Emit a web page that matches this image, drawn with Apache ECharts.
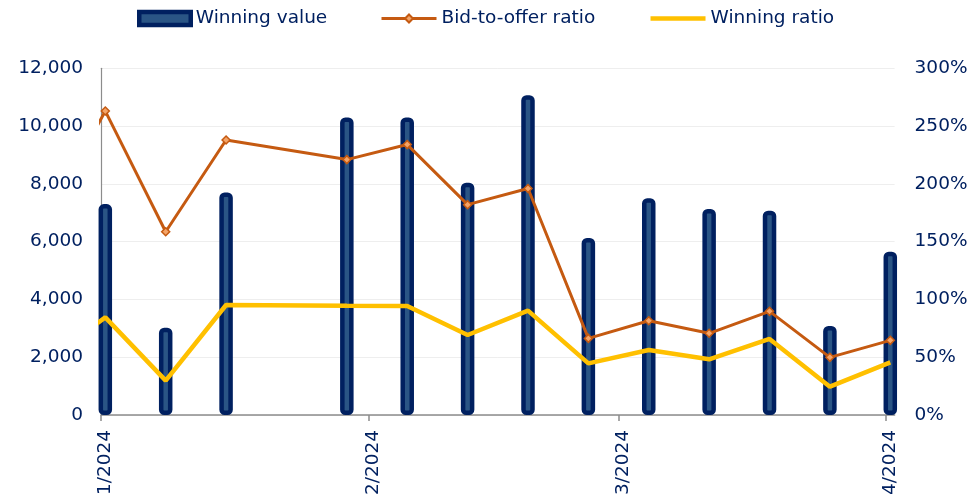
<!DOCTYPE html>
<html>
<head>
<meta charset="utf-8">
<title>Winning value and ratios</title>
<script src="https://cdn.jsdelivr.net/npm/echarts@6/dist/echarts.min.js"></script>
<style>
  html, body { margin: 0; padding: 0; background: #ffffff; }
  #chart { width: 978px; height: 499px; }
</style>
</head>
<body>
<div id="chart"></div>
<script>
// Weekly auction results (the first week lies just before the visible range)
const weeks = ['2023-12-25', '2024-01-01', '2024-01-08', '2024-01-15', '2024-01-29', '2024-02-05',
               '2024-02-12', '2024-02-19', '2024-02-26', '2024-03-04', '2024-03-11', '2024-03-18',
               '2024-03-25', '2024-04-01'];
const winningValue = [null, 7300, 3020, 7700, 10300, 10300, 8040, 11070, 6130, 7500, 7130, 7070, 3080, 5650];
const bidToOfferRatio = [168, 263, 158.6, 238, 221, 234, 182, 196, 66.3, 81.6, 70.7, 89.7, 49.9, 64.6];
const winningRatio = [46, 84.5, 29.7, 95.2, 94.5, 94.3, 69.2, 90.3, 44.7, 56.2, 48.2, 65.8, 24.5, 45.6];
const monthTicks = ['2024-01-01', '2024-02-01', '2024-03-01', '2024-04-01'];

const seriesNames = ['Winning value', 'Bid-to-offer ratio', 'Winning ratio'];

const navy = '#002060';
const fontFamily = '"DejaVu Sans", sans-serif';

// The x axis counts days from 1 Jan 2024
const DAY = 24 * 3600 * 1000;
const origin = Date.UTC(2024, 0, 1);
function dayIndex(s) {
  const p = s.split('-').map(Number);
  return Math.round((Date.UTC(p[0], p[1] - 1, p[2]) - origin) / DAY);
}
// Each week's marks sit in the middle of its day
const xs = weeks.map(w => dayIndex(w) + 0.5);
const pairs = vals => xs.map((x, i) => [x, vals[i]]);

const tickValues = monthTicks.map(dayIndex);
const labelValues = tickValues.map(t => t + 0.5);

function monthLabel(v) {
  const d = new Date(origin + Math.floor(v) * DAY);
  return (d.getUTCMonth() + 1) + '/' + d.getUTCFullYear();
}

const legendText = { color: navy, fontSize: 18.5, fontFamily: fontFamily };

const chart = echarts.init(document.getElementById('chart'), null, { renderer: 'canvas' });

chart.setOption({
  animation: false,
  backgroundColor: '#ffffff',
  textStyle: { fontFamily: fontFamily },
  legend: [
    {
      data: [{ name: seriesNames[0], icon: 'rect' }],
      left: 137,
      top: 9,
      padding: 0,
      itemWidth: 51.5,
      itemHeight: 13,
      itemStyle: { borderWidth: 4.5 },
      textStyle: legendText
    },
    {
      data: [
        { name: seriesNames[1], lineStyle: { width: 3 } },
        { name: seriesNames[2], lineStyle: { width: 4.5 }, itemStyle: { color: 'rgba(0,0,0,0)', borderWidth: 0 } }
      ],
      left: 380,
      top: 9,
      padding: 0,
      itemWidth: 55,
      itemHeight: 10,
      itemGap: 53,
      textStyle: legendText
    }
  ],
  grid: { left: 101, right: 83.4, top: 68.3, bottom: 84, containLabel: false },
  xAxis: {
    type: 'value',
    min: 0,
    max: dayIndex('2024-04-02'),
    axisLine: { show: true, lineStyle: { color: '#8c8c8c', width: 1.5 } },
    axisTick: { show: true, customValues: tickValues, length: 6, lineStyle: { color: '#8c8c8c', width: 1.5 } },
    splitLine: { show: false },
    axisLabel: {
      customValues: labelValues,
      rotate: 90,
      margin: 15,
      color: navy,
      fontSize: 18.5,
      fontFamily: fontFamily,
      hideOverlap: false,
      formatter: monthLabel
    }
  },
  yAxis: [
    {
      type: 'value',
      min: 0,
      max: 12000,
      interval: 2000,
      axisLine: { show: true, lineStyle: { color: '#8c8c8c', width: 1.2 } },
      axisTick: { show: false },
      splitLine: { show: true, lineStyle: { color: '#eeeeee', width: 1 } },
      axisLabel: {
        margin: 18,
        color: navy,
        fontSize: 18.5,
        fontFamily: fontFamily,
        formatter: v => v.toLocaleString('en-US')
      }
    },
    {
      type: 'value',
      min: 0,
      max: 300,
      interval: 50,
      axisLine: { show: false },
      axisTick: { show: false },
      splitLine: { show: false },
      axisLabel: {
        margin: 20,
        color: navy,
        fontSize: 18.5,
        fontFamily: fontFamily,
        formatter: v => v + '%'
      }
    }
  ],
  series: [
    {
      name: seriesNames[0],
      type: 'bar',
      yAxisIndex: 0,
      barWidth: 13.5,
      data: pairs(winningValue),
      itemStyle: { color: '#2a5585', borderColor: navy, borderWidth: 4.5, borderRadius: 3 },
      z: 2
    },
    {
      name: seriesNames[1],
      type: 'line',
      yAxisIndex: 1,
      data: pairs(bidToOfferRatio),
      symbol: 'diamond',
      symbolSize: 8,
      showSymbol: true,
      clip: true,
      lineStyle: { color: '#c55a11', width: 3 },
      itemStyle: { color: '#f4a468', borderColor: '#c55a11', borderWidth: 1.5 },
      z: 3
    },
    {
      name: seriesNames[2],
      type: 'line',
      yAxisIndex: 1,
      data: pairs(winningRatio),
      symbol: 'none',
      clip: true,
      lineStyle: { color: '#ffc000', width: 4.5 },
      itemStyle: { color: '#ffc000' },
      z: 4
    }
  ]
});
</script>
</body>
</html>
